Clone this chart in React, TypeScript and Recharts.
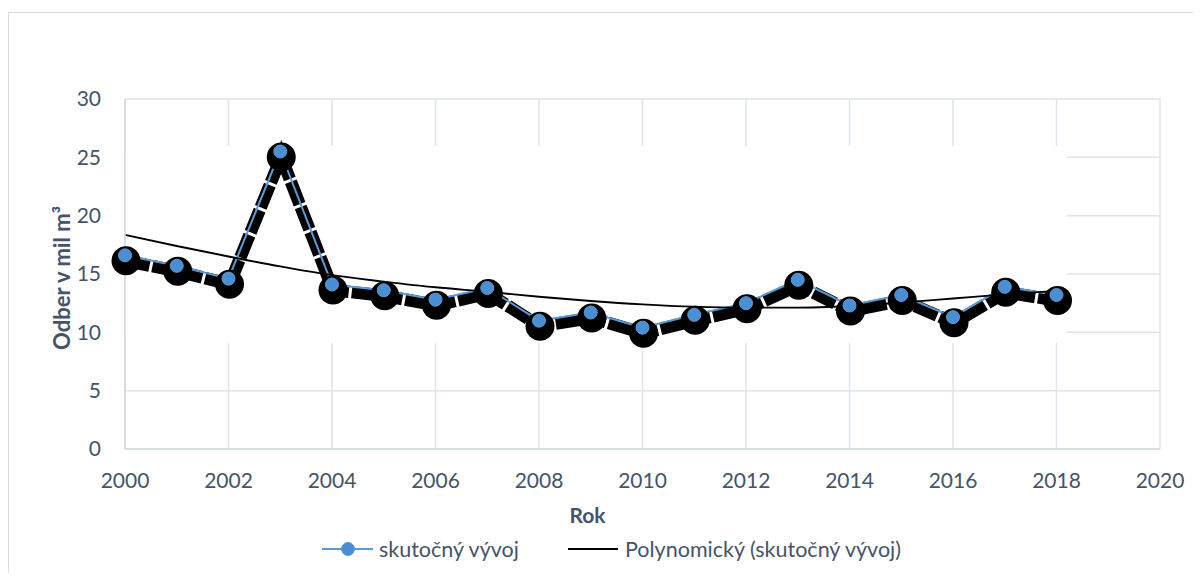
import React from "react";
import {
  LineChart,
  Line,
  XAxis,
  YAxis,
  CartesianGrid,
  ReferenceArea,
  Legend,
} from "recharts";

const years = [2000, 2001, 2002, 2003, 2004, 2005, 2006, 2007, 2008, 2009, 2010, 2011, 2012, 2013, 2014, 2015, 2016, 2017, 2018];
const actual = [16.6, 15.7, 14.6, 25.5, 14.1, 13.6, 12.8, 13.8, 11.0, 11.7, 10.4, 11.5, 12.5, 14.5, 12.3, 13.2, 11.3, 13.9, 13.2];
const trend = [18.35, 17.4, 16.5, 15.65, 14.9, 14.35, 13.86, 13.48, 13.05, 12.69, 12.4, 12.2, 12.12, 12.12, 12.26, 12.55, 12.9, 13.25, 13.55];
const xTicks = [2000, 2002, 2004, 2006, 2008, 2010, 2012, 2014, 2016, 2018, 2020];
const yTicks = [0, 5, 10, 15, 20, 25, 30];
const seriesName = "skutočný vývoj";
const trendName = "Polynomický (skutočný vývoj)";
const xTitle = "Rok";
const yTitle = "Odber v mil m³";

const data = years.map((year, i) => ({ year, actual: actual[i], trend: trend[i] }));

const FONT = "Lato, 'Open Sans', sans-serif";
const TEXT = "#44546a";
const GRID = "#dfe3ea";
const SHIFT = "translate(1px, 5.5px)";

const ShadowDot = (props: any) => {
  const { cx, cy, index } = props;
  if (cx == null || cy == null) return <g key={index} />;
  return <circle key={index} cx={cx + 1} cy={cy + 5.5} r={14.5} fill="#000" />;
};

const BlueDot = (props: any) => {
  const { cx, cy, index } = props;
  if (cx == null || cy == null) return <g key={index} />;
  return <circle key={index} cx={cx} cy={cy} r={6.5} fill="#4a8fd4" stroke="#5b9bd5" strokeWidth={1} />;
};

const LegendContent = () => (
  <div style={{ position: "relative", height: 0, fontFamily: FONT, fontSize: 21.5, color: TEXT }}>
    <div style={{ position: "absolute", left: 314, top: 0, height: 22, display: "flex", alignItems: "center", whiteSpace: "nowrap" }}>
      <svg width={51} height={22} style={{ marginRight: 6 }}>
        <line x1={0} y1={11} x2={51} y2={11} stroke="#5b9bd5" strokeWidth={2} />
        <circle cx={26} cy={11} r={6.5} fill="#4a8fd4" stroke="#5b9bd5" strokeWidth={1} />
      </svg>
      <span>{seriesName}</span>
    </div>
    <div style={{ position: "absolute", left: 560, top: 0, height: 22, display: "flex", alignItems: "center", whiteSpace: "nowrap" }}>
      <svg width={50} height={22} style={{ marginRight: 7 }}>
        <line x1={0} y1={11} x2={50} y2={11} stroke="#000" strokeWidth={2} />
      </svg>
      <span>{trendName}</span>
    </div>
  </div>
);

export default function App() {
  return (
    <div style={{ position: "relative", width: 1186, height: 565, overflow: "hidden", background: "#fff" }}>
      <style>{`
        .shadowLine path.recharts-curve { transform: ${SHIFT}; }
      `}</style>
      <div
        style={{
          position: "absolute",
          left: 0,
          top: 4,
          width: 1250,
          height: 650,
          border: "1.5px solid #d9dde3",
          boxSizing: "border-box",
        }}
      />
      <LineChart
        width={1186}
        height={565}
        data={data}
        margin={{ top: 91, right: 34, bottom: 0, left: 0 }}
        style={{ position: "absolute", left: 0, top: 0 }}
      >
        <CartesianGrid stroke={GRID} strokeWidth={1.5} />
        <ReferenceArea x1={2000} x2={2018.2} y1={9.11} y2={25.97} fill="#ffffff" fillOpacity={1} stroke="none" />
        <XAxis
          dataKey="year"
          type="number"
          domain={[2000, 2020]}
          ticks={xTicks}
          interval={0}
          height={124}
          tickLine={false}
          tickMargin={18}
          axisLine={{ stroke: "#d2d7de", strokeWidth: 1.5 }}
          tick={{ fill: TEXT, fontSize: 21, fontFamily: FONT }}
          label={{
            content: (p: any) => {
              const vb = p.viewBox || { x: 117, width: 1035 };
              return (
                <text
                  x={vb.x + vb.width / 2 - 55}
                  y={515}
                  textAnchor="middle"
                  fill={TEXT}
                  fontFamily={FONT}
                  fontWeight="bold"
                  fontSize={21}
                >
                  {xTitle}
                </text>
              );
            },
          }}
        />
        <YAxis
          type="number"
          domain={[0, 30]}
          ticks={yTicks}
          interval={0}
          width={117}
          tickLine={false}
          tickMargin={18}
          axisLine={{ stroke: "#d2d7de", strokeWidth: 1.5 }}
          tick={{ fill: TEXT, fontSize: 21, fontFamily: FONT }}
          label={{
            content: (p: any) => {
              const vb = p.viewBox || { y: 91, height: 350 };
              const cy = vb.y + vb.height / 2 + 4;
              return (
                <text
                  x={62}
                  y={cy}
                  textAnchor="middle"
                  transform={`rotate(-90, 62, ${cy})`}
                  fill={TEXT}
                  fontFamily={FONT}
                  fontWeight="bold"
                  fontSize={22}
                >
                  {yTitle}
                </text>
              );
            },
          }}
        />
        <Line
          className="shadowLine"
          dataKey="actual"
          type="linear"
          stroke="#000"
          strokeWidth={12.5}
          strokeDasharray="24 3"
          style={{ transform: SHIFT }}
          dot={<ShadowDot />}
          activeDot={false}
          legendType="none"
          isAnimationActive={false}
        />
        <Line
          dataKey="actual"
          name={seriesName}
          type="linear"
          stroke="#5b9bd5"
          strokeWidth={2}
          dot={<BlueDot />}
          activeDot={false}
          isAnimationActive={false}
        />
        <Line
          dataKey="trend"
          name={trendName}
          type="monotone"
          stroke="#000"
          strokeWidth={1.9}
          dot={false}
          activeDot={false}
          isAnimationActive={false}
        />
        <Legend
          verticalAlign="bottom"
          content={<LegendContent />}
          wrapperStyle={{ position: "absolute", left: 0, top: 530, bottom: "auto", width: 1186, height: 0, overflow: "visible" }}
        />
      </LineChart>
    </div>
  );
}
